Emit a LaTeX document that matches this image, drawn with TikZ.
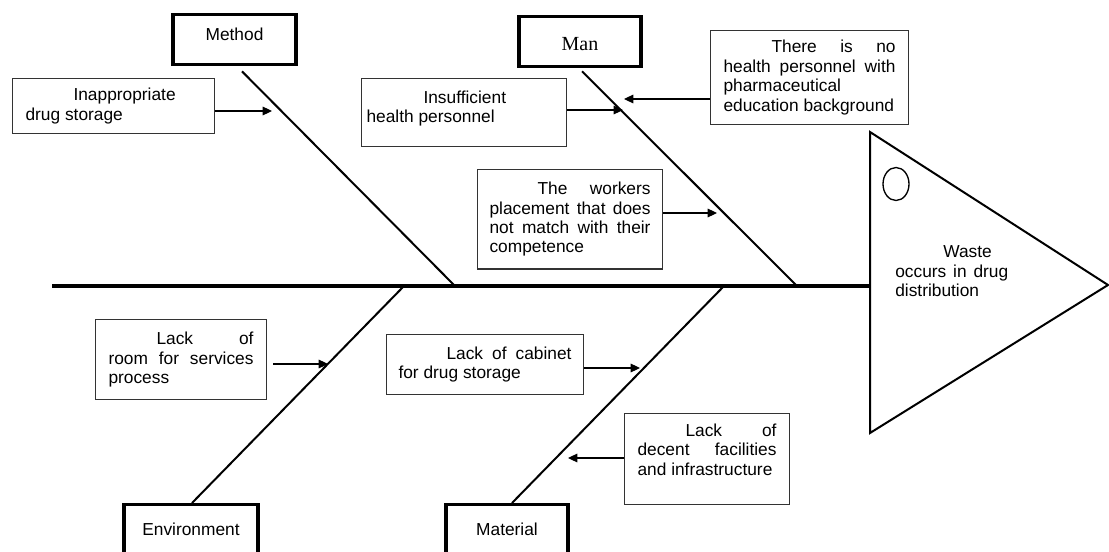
\documentclass[tikz,border=0pt]{standalone}
\usepackage{fontspec}
\setmainfont{Liberation Sans}
\newfontfamily\manfont{Liberation Serif}
\usetikzlibrary{arrows.meta, shapes.geometric}
\tolerance=10000
\hbadness=10000
\hyphenpenalty=10000
\exhyphenpenalty=10000

\begin{document}
\begin{tikzpicture}[
    x=0.75pt, y=-0.75pt,
    every node/.style={font=\fontsize{13}{14.6}\selectfont},
    fb-cat/.style={rectangle, draw, line width=2.5pt, inner sep=0pt, anchor=north},
    fb-cause/.style={rectangle, draw=black!80, line width=0.8pt, anchor=north west,
        align=justify, inner ysep=6pt},
    fb-head/.style={line width=1.5pt},
    fb-spine/.style={line width=3.5pt},
    fb-bone/.style={line width=1.5pt},
    fb-arrow/.style={-{Triangle[length=7pt, width=6.5pt]}, line width=0.8pt},
]
    \clip (0,0) rectangle (1109,552);

    % ---- HEAD: problem ----
    \draw[fb-head] (870,132) coordinate (headtop) -- (1108,285) coordinate (headtip)
        -- (870,433) coordinate (headbot) -- cycle;
    \node[draw, ellipse, line width=1pt, minimum width=19.5pt, minimum height=24.75pt,
          inner sep=0pt] (eye) at (896,184) {};
    \node[anchor=north west, inner sep=0pt, text width=84.75pt, align=justify] (waste)
        at (895,245.6) {\hspace*{36pt}Waste\linebreak occurs in drug\linebreak distribution};

    % ---- NODES: categories ----
    \node[fb-cat, minimum width=92.25pt, text height=19.65pt, text depth=17.85pt]
        (method) at (234.5,13) {Method};
    \node[fb-cat, minimum width=91.5pt, text height=25.2pt, text depth=12.3pt,
          font=\manfont\fontsize{15}{18}\selectfont]
        (man) at (580,15) {Man};
    \node[fb-cat, minimum width=100.5pt, text height=23.4pt, text depth=16.35pt]
        (env) at (191,503) {Environment};
    \node[fb-cat, minimum width=91.5pt, text height=23.4pt, text depth=16.35pt]
        (mat) at (507,503) {Material};

    % ---- NODES: causes ----
    \node[fb-cause, text width=132pt, inner xsep=9.75pt, minimum height=41.25pt]
        (inapp) at (12,78) {\hspace*{36pt}Inappropriate\linebreak drug storage};
    \node[fb-cause, text width=146.25pt, inner xsep=3.75pt, minimum height=51pt]
        (insuf) at (361,78) {\hspace*{42.75pt}Insufficient\linebreak health personnel\rule[-9pt]{0pt}{9pt}};
    \node[fb-cause, text width=129pt, inner xsep=9.75pt, minimum height=70.5pt]
        (nohealth) at (710,30) {\hspace*{36pt}There is no\linebreak health personnel with\linebreak
        pharmaceutical\linebreak education background};
    \node[fb-cause, text width=120.75pt, inner xsep=9pt, minimum height=74.6pt]
        (workers) at (477,169) {\hspace*{36pt}The workers\linebreak placement that does\linebreak
        not match with their\linebreak competence};
    \node[fb-cause, text width=108.75pt, inner xsep=9.75pt, minimum height=60pt]
        (room) at (95,319) {\hspace*{36pt}Lack of\linebreak room for services\linebreak process};
    \node[fb-cause, text width=129.75pt, inner xsep=9pt, minimum height=45pt]
        (cabinet) at (386,334) {\hspace*{36pt}Lack of cabinet\linebreak for drug storage};
    \node[fb-cause, text width=104.25pt, inner xsep=9.75pt, minimum height=68.25pt]
        (decent) at (624,413) {\hspace*{36pt}Lack of\linebreak decent facilities\linebreak
        and infrastructure\rule[-14pt]{0pt}{14pt}};

    % ---- SPINE + BONES ----
    \coordinate (tail) at (52,286);
    \coordinate (head) at (869,286);
    \coordinate (jmethod) at (455,286);
    \coordinate (jman) at (797,286);
    \coordinate (jenv) at (404,286);
    \coordinate (jmat) at (724,286);

    \draw[fb-spine] (tail) -- (head);
    \draw[fb-bone] ([xshift=5.6pt, yshift=-3.75pt]method.south) -- (jmethod);
    \draw[fb-bone] ([xshift=1.5pt, yshift=-2.25pt]man.south) -- (jman);
    \draw[fb-bone] (jenv) -- ([xshift=0.75pt]env.north);
    \draw[fb-bone] (jmat) -- ([xshift=3.75pt]mat.north);

    % ---- ARROWS: causes onto bones ----
    \coordinate (t-inapp) at (272,111);
    \coordinate (t-insuf) at (623,110);
    \coordinate (t-nohealth) at (624,99);
    \coordinate (t-workers) at (717,213);
    \coordinate (t-room) at (328,364);
    \coordinate (t-cabinet) at (640,368);
    \coordinate (t-decent) at (568,458);

    \draw[fb-arrow] (inapp.east |- t-inapp) -- (t-inapp);
    \draw[fb-arrow] (insuf.east |- t-insuf) -- (t-insuf);
    \draw[fb-arrow] (nohealth.west |- t-nohealth) -- (t-nohealth);
    \draw[fb-arrow] (workers.east |- t-workers) -- (t-workers);
    \draw[fb-arrow, shorten <=4.5pt] (room.east |- t-room) -- (t-room);
    \draw[fb-arrow] (cabinet.east |- t-cabinet) -- (t-cabinet);
    \draw[fb-arrow] (decent.west |- t-decent) -- (t-decent);

\end{tikzpicture}
\end{document}
